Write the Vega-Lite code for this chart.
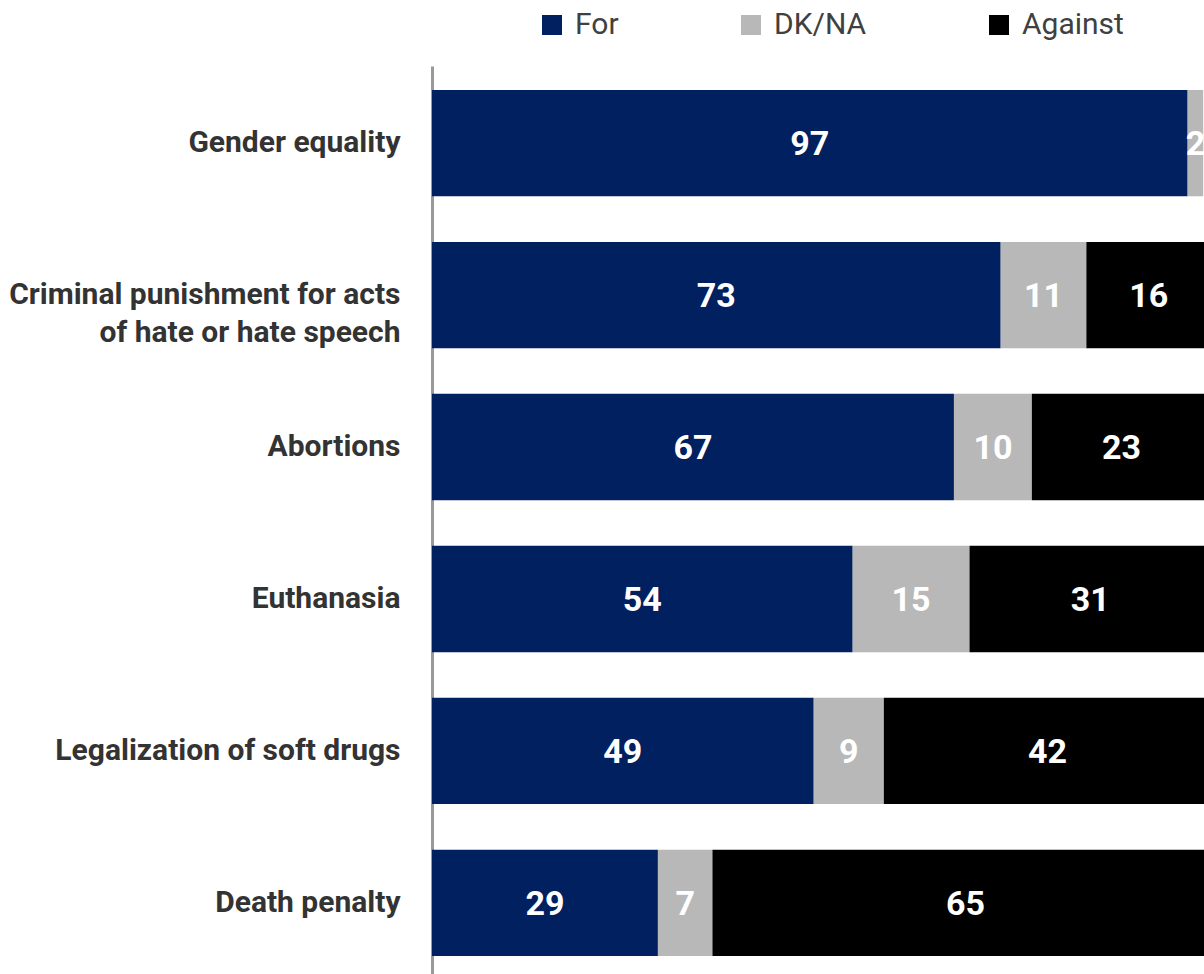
{
  "$schema": "https://vega.github.io/schema/vega-lite/v6.json",
  "autosize": {"type": "none"},
  "padding": {"left": 432, "top": 66, "right": 0, "bottom": 0},
  "width": 779,
  "height": 914,
  "background": "white",
  "config": {
    "view": {"stroke": null},
    "font": "Liberation Sans Narrow, Roboto, sans-serif"
  },
  "data": {
    "values": [
      {"item": "Gender equality", "group": "For", "value": 97},
      {"item": "Gender equality", "group": "DK/NA", "value": 2},
      {"item": "Criminal punishment for acts of hate or hate speech", "group": "For", "value": 73},
      {"item": "Criminal punishment for acts of hate or hate speech", "group": "DK/NA", "value": 11},
      {"item": "Criminal punishment for acts of hate or hate speech", "group": "Against", "value": 16},
      {"item": "Abortions", "group": "For", "value": 67},
      {"item": "Abortions", "group": "DK/NA", "value": 10},
      {"item": "Abortions", "group": "Against", "value": 23},
      {"item": "Euthanasia", "group": "For", "value": 54},
      {"item": "Euthanasia", "group": "DK/NA", "value": 15},
      {"item": "Euthanasia", "group": "Against", "value": 31},
      {"item": "Legalization of soft drugs", "group": "For", "value": 49},
      {"item": "Legalization of soft drugs", "group": "DK/NA", "value": 9},
      {"item": "Legalization of soft drugs", "group": "Against", "value": 42},
      {"item": "Death penalty", "group": "For", "value": 29},
      {"item": "Death penalty", "group": "DK/NA", "value": 7},
      {"item": "Death penalty", "group": "Against", "value": 65}
    ]
  },
  "transform": [
    {"calculate": "datum.group == 'For' ? 0 : (datum.group == 'DK/NA' ? 1 : 2)", "as": "ord"},
    {"stack": "value", "groupby": ["item"], "sort": [{"field": "ord", "order": "ascending"}], "as": ["x0", "x1"]},
    {"calculate": "(datum.x0 + datum.x1) / 2", "as": "mid"}
  ],
  "encoding": {
    "y": {
      "field": "item",
      "type": "nominal",
      "sort": null,
      "scale": {"paddingInner": 0.3, "paddingOuter": 0.158},
      "axis": {
        "title": null,
        "ticks": false,
        "tickSize": 0,
        "labelPadding": 32,
        "labelFontSize": 30,
        "labelFontWeight": "bold",
        "labelColor": "#333333",
        "labelLineHeight": 38,
        "labelLimit": 500,
        "labelExpr": "datum.value == 'Criminal punishment for acts of hate or hate speech' ? ['Criminal punishment for acts', 'of hate or hate speech'] : datum.value",
        "domainColor": "#999999",
        "domainWidth": 3
      }
    }
  },
  "layer": [
    {
      "mark": {"type": "bar"},
      "encoding": {
        "x": {"field": "x0", "type": "quantitative", "scale": {"domain": [0, 100], "nice": false}, "axis": null},
        "x2": {"field": "x1"},
        "color": {
          "field": "group",
          "type": "nominal",
          "scale": {"domain": ["For", "DK/NA", "Against"], "range": ["#002060", "#b8b8b8", "#000000"]},
          "legend": {
            "title": null,
            "orient": "none",
            "direction": "horizontal",
            "legendX": 105,
            "legendY": -56,
            "symbolType": "square",
            "symbolSize": 400,
            "symbolStrokeWidth": 0,
            "labelFontSize": 30,
            "labelColor": "#404040",
            "labelOffset": 8,
            "columnPadding": 117
          }
        }
      }
    },
    {
      "mark": {"type": "text", "color": "white", "fontSize": 34, "fontWeight": "bold", "align": "center", "baseline": "middle", "dy": 2},
      "encoding": {
        "x": {"field": "mid", "type": "quantitative"},
        "text": {"field": "value", "type": "quantitative"}
      }
    }
  ]
}
